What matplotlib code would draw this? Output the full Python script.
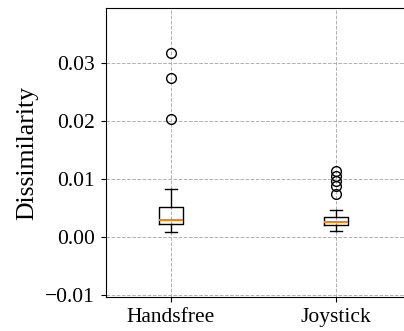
import matplotlib
matplotlib.use("Agg")
import matplotlib.pyplot as plt

# box statistics
labels = ["Handsfree", "Joystick"]
whislo = [0.00086, 0.00103]
q1 = [0.00229, 0.00207]
med = [0.00288, 0.00253]
q3 = [0.00522, 0.00350]
whishi = [0.00828, 0.00466]
fliers = [
    [0.0317, 0.0275, 0.0203],
    [0.0113, 0.0105, 0.0097, 0.0088, 0.0075],
]

plt.rcParams["font.family"] = ["Liberation Serif", "DejaVu Serif"]

stats = []
for i in range(len(labels)):
    stats.append({
        "label": labels[i],
        "whislo": whislo[i],
        "q1": q1[i],
        "med": med[i],
        "q3": q3[i],
        "whishi": whishi[i],
        "fliers": fliers[i],
    })

fig = plt.figure(figsize=(4.04, 3.31), dpi=100)
ax = fig.add_axes([106 / 404, 34 / 331, 1 - 106 / 404, 289 / 331])

ax.bxp(stats, widths=0.15,
       flierprops=dict(marker="o", markersize=7, markerfacecolor="none",
                       markeredgecolor="black"),
       medianprops=dict(color="#ff7f0e", linewidth=1.5))

ax.set_xlim(0.606, 2.412)
ax.set_ylim(-0.01035, 0.0395)
ax.set_yticks([-0.01, 0.0, 0.01, 0.02, 0.03])
ax.set_yticklabels(["\u22120.01", "0.00", "0.01", "0.02", "0.03"])
ax.grid(True, ls="--", color="#b0b0b0", lw=0.7)
ax.set_axisbelow(True)
ax.spines["right"].set_visible(False)
ax.tick_params(labelsize=15.5, pad=4.5)
ax.set_ylabel("Dissimilarity", fontsize=18.5, labelpad=5)

fig.savefig("out.png", dpi=100)
